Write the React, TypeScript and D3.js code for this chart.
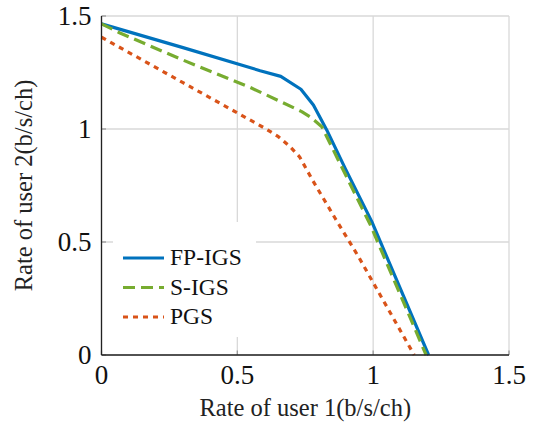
import React from 'react'
import * as d3 from 'd3'

// rate region curves (x = user 1 rate, y = user 2 rate)
const fpIgs: [number, number][] = [
  [0, 1.465], [0.3, 1.36], [0.584, 1.258], [0.66, 1.233], [0.734, 1.176],
  [0.78, 1.106], [0.829, 0.996], [0.897, 0.826], [0.995, 0.59], [1.204, 0]
]
const sIgs: [number, number][] = [
  [0, 1.465], [0.068, 1.425], [0.3, 1.305], [0.547, 1.184], [0.608, 1.15],
  [0.737, 1.077], [0.768, 1.054], [0.811, 1.01], [0.85, 0.915], [0.99, 0.575], [1.195, 0]
]
const pgs: [number, number][] = [
  [0, 1.406], [0.3, 1.205], [0.602, 1.003], [0.651, 0.966], [0.694, 0.922],
  [0.729, 0.877], [0.78, 0.767], [0.86, 0.605], [0.946, 0.435], [1.151, 0]
]

const xTicks = [0, 0.5, 1, 1.5]
const yTicks = [0, 0.5, 1, 1.5]
const xTickLabels = ['0', '0.5', '1', '1.5']
const yTickLabels = ['0', '0.5', '1', '1.5']

const seriesNames = ['FP-IGS', 'S-IGS', 'PGS']
const seriesData = [fpIgs, sIgs, pgs]
const seriesColors = ['#0072BD', '#77AC30', '#D95319']
const seriesDash = ['none', '12,6', '5,5']

const xLabel = 'Rate of user 1(b/s/ch)'
const yLabel = 'Rate of user 2(b/s/ch)'

export default function App() {
  const width = 542, height = 425
  const left = 101.5, right = 509, top = 16, bottom = 355

  const x = d3.scaleLinear().domain([0, 1.5]).range([left, right])
  const y = d3.scaleLinear().domain([0, 1.5]).range([bottom, top])

  const line = d3.line<[number, number]>()
    .x(d => x(d[0]))
    .y(d => y(d[1]))

  const serif = 'Liberation Serif'

  return (
    <svg width={width} height={height}
      style={{ position: 'absolute', left: 0, top: 0, background: '#fff' }}>
      {/* grid */}
      {xTicks.map(t => (
        <line key={'gx' + t} x1={x(t)} x2={x(t)} y1={top} y2={bottom}
          stroke="#d9d9d9" strokeWidth={1.3} />
      ))}
      {yTicks.map(t => (
        <line key={'gy' + t} x1={left} x2={right} y1={y(t)} y2={y(t)}
          stroke="#d9d9d9" strokeWidth={1.3} />
      ))}
      {/* inward ticks */}
      {xTicks.map(t => (
        <line key={'tx' + t} x1={x(t)} x2={x(t)} y1={bottom} y2={bottom - 4.5}
          stroke="#9a9a9a" strokeWidth={1.3} />
      ))}
      {yTicks.map(t => (
        <line key={'ty' + t} x1={left} x2={left + 4.5} y1={y(t)} y2={y(t)}
          stroke="#9a9a9a" strokeWidth={1.3} />
      ))}

      {/* curves */}
      {seriesData.map((d, i) => (
        <path key={seriesNames[i]} d={line(d) || ''} fill="none"
          stroke={seriesColors[i]} strokeWidth={3.2}
          strokeDasharray={seriesDash[i]} strokeLinejoin="round" />
      ))}

      {/* main axes */}
      <line x1={left} x2={left} y1={top} y2={bottom} stroke="#222" strokeWidth={1.3} />
      <line x1={left} x2={right} y1={bottom} y2={bottom} stroke="#222" strokeWidth={1.3} />

      <g style={{ fontFamily: serif }}>
        {/* tick labels */}
        {xTicks.map((t, i) => (
          <text key={'lx' + t} x={x(t)} y={384} textAnchor="middle"
            fontSize={27} fill="#111">{xTickLabels[i]}</text>
        ))}
        {yTicks.map((t, i) => (
          <text key={'ly' + t} x={left - 10} y={y(t) + 9} textAnchor="end"
            fontSize={27} fill="#111">{yTickLabels[i]}</text>
        ))}

        {/* axis labels */}
        <text x={(left + right) / 2} y={416} textAnchor="middle"
          fontSize={24.5} fill="#222">{xLabel}</text>
        <text transform={`translate(32,${(top + bottom) / 2}) rotate(-90)`} textAnchor="middle"
          fontSize={24.5} fill="#222">{yLabel}</text>

        {/* legend */}
        <rect x={113} y={222} width={143} height={115} fill="#fff" />
        {seriesNames.map((n, i) => (
          <g key={'lg' + n} transform={`translate(0,${258 + i * 29.5})`}>
            <line x1={123} x2={164} y1={0} y2={0} stroke={seriesColors[i]}
              strokeWidth={3.2} strokeDasharray={seriesDash[i]} />
            <text x={170} y={7} fontSize={23.5} fill="#111">{n}</text>
          </g>
        ))}
      </g>
    </svg>
  )
}
